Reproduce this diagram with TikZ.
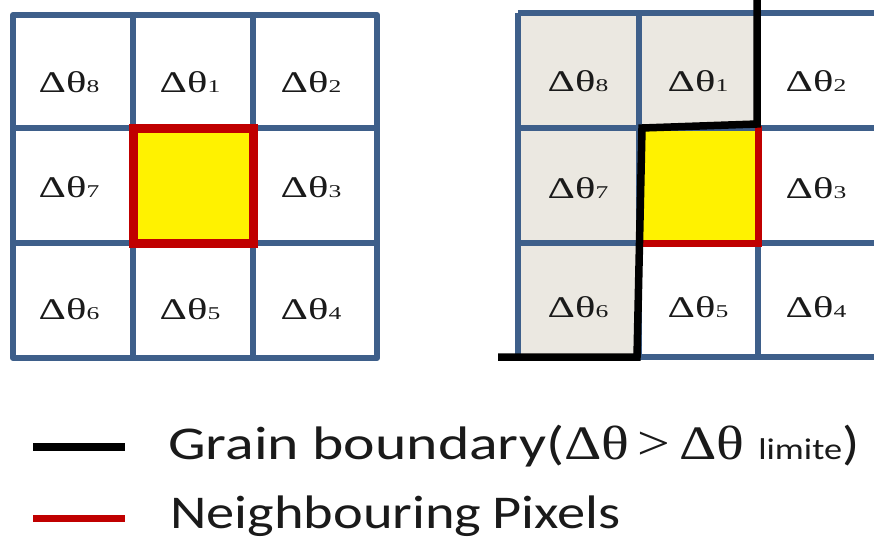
\documentclass[tikz,border=0pt]{standalone}
\usepackage{fontspec}
\newfontfamily\carl{Carlito}
\newfontfamily\tnrm{Liberation Serif}
\definecolor{gridblue}{HTML}{3E5F8A}
\definecolor{nbred}{HTML}{C00000}
\definecolor{cellgray}{HTML}{EBE8E1}
\definecolor{ink}{HTML}{1A1A1A}
\newcommand{\dth}[1]{\scalebox{1.42}[1]{\tnrm\fontsize{30}{34}\selectfont Δθ{\fontsize{18}{20}\selectfont #1}}}
\begin{document}
\begin{tikzpicture}[x=1pt,y=-1pt,
  gridline/.style={draw=gridblue,line width=6pt},
  redline/.style={draw=nbred,line width=9pt},
  gbline/.style={draw=black,line width=7.5pt,line join=miter},
  celltxt/.style={anchor=base,inner sep=0pt,text=ink},
  legtxt/.style={anchor=base west,inner sep=0pt,text=ink}]
\useasboundingbox (0,0) rectangle (874,544);
\clip (0,0) rectangle (874,544);
\fill[white] (0,0) rectangle (874,544);

% ---------- left grid ----------
\fill[yellow] (133,128) rectangle (253,243);
\foreach \x in {13,133,253,377} \draw[gridline] (\x,15) -- (\x,358);
\foreach \y in {15,128,243,358} \draw[gridline] (13,\y) -- (377,\y);
\draw[gridline,line join=round] (13,15) rectangle (377,358);
\draw[redline] (133,128) rectangle (253,243);

\node[celltxt] (l8) at (69,92) {\dth{8}};
\node[celltxt] (l1) at (190,92) {\dth{1}};
\node[celltxt] (l2) at (311,92) {\dth{2}};
\node[celltxt] (l7) at (69,197) {\dth{7}};
\node[celltxt] (l3) at (311,197) {\dth{3}};
\node[celltxt] (l6) at (69,319) {\dth{6}};
\node[celltxt] (l5) at (190,319) {\dth{5}};
\node[celltxt] (l4) at (311,319) {\dth{4}};

% ---------- right grid ----------
\fill[cellgray] (518,13) rectangle (758,128);
\fill[cellgray] (518,128) rectangle (639,357);
\fill[yellow] (639,128) rectangle (758,243);
\foreach \x in {518,639,758,880} \draw[gridline] (\x,13) -- (\x,357);
\foreach \y in {13,128,243,357} \draw[gridline] (518,\y) -- (890,\y);
\draw[redline,line width=7pt] (758,126) -- (758,243) -- (640,243);
\draw[gbline] (757,-5) -- (757,124) -- (642,128) -- (637,357) -- (498,357);

\node[celltxt] (r8) at (578,91) {\dth{8}};
\node[celltxt] (r1) at (698,91) {\dth{1}};
\node[celltxt] (r2) at (816,91) {\dth{2}};
\node[celltxt] (r7) at (578,198) {\dth{7}};
\node[celltxt] (r3) at (816,198) {\dth{3}};
\node[celltxt] (r6) at (578,317) {\dth{6}};
\node[celltxt] (r5) at (698,317) {\dth{5}};
\node[celltxt] (r4) at (816,317) {\dth{4}};

% ---------- legend ----------
\coordinate (gbA) at (33,447);
\coordinate (gbB) at (125,447);
\coordinate (nbA) at (33,518);
\coordinate (nbB) at (125,518);
\draw[black,line width=8pt] (gbA) -- (gbB);
\draw[nbred,line width=7pt] (nbA) -- (nbB);
\node[legtxt] (leg1) at (168,459) {\scalebox{1.27}[1]{\carl\fontsize{47}{50}\selectfont Grain boundary(}\scalebox{1.21}[1]{\tnrm\fontsize{48}{50}\selectfont Δθ\hspace{7pt}>\hspace{7pt}Δθ}\hspace{14pt}\scalebox{1.21}[1]{\carl\fontsize{30}{32}\selectfont limite}\scalebox{1.21}[1]{\carl\fontsize{47}{50}\selectfont )}};
\node[legtxt] (leg2) at (170,528) {\scalebox{1.2}[1]{\carl\fontsize{47}{50}\selectfont Neighbouring\hspace{9pt}Pixels}};
\end{tikzpicture}
\end{document}
